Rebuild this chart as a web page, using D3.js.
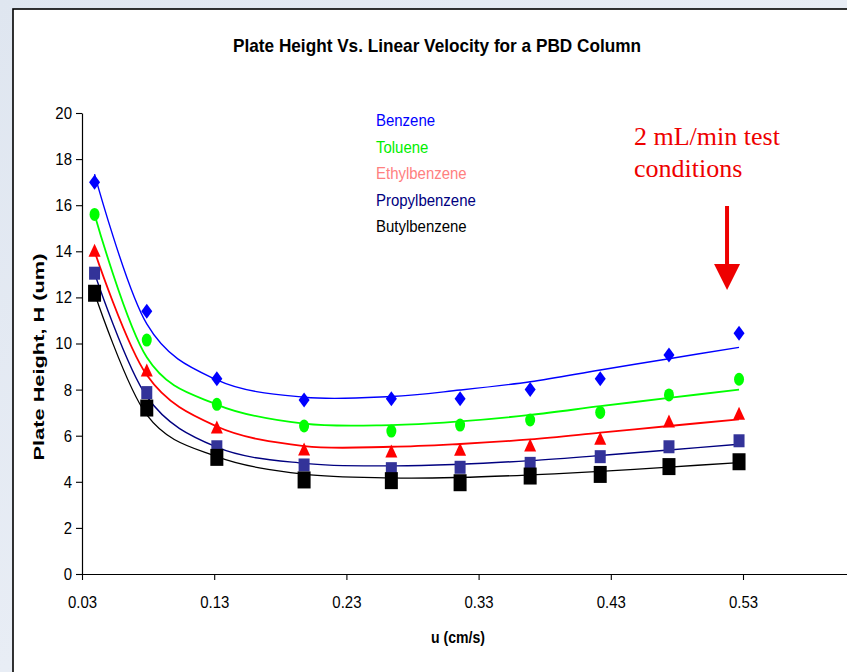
<!DOCTYPE html>
<html>
<head>
<meta charset="utf-8">
<script src="https://cdn.jsdelivr.net/npm/d3@7"></script>
<style>
  html, body { margin: 0; padding: 0; background: #e1e8f1; }
  svg { display: block; }
</style>
</head>
<body>
<svg id="chart" width="847" height="672"></svg>
<script>
// Linear velocity u (cm/s) for each measured flow rate
const velocity = [0.0395, 0.079, 0.132, 0.198, 0.264, 0.316, 0.369, 0.422, 0.474, 0.527];

// Measured plate heights H (um)
const benzeneH      = [17.0, 11.4, 8.47, 7.55, 7.6, 7.6, 8.0, 8.47, 9.5, 10.45];
const tolueneH      = [15.6, 10.15, 7.36, 6.42, 6.2, 6.46, 6.68, 7.01, 7.77, 8.45];
const ethylbenzeneH = [14.05, 8.85, 6.38, 5.42, 5.34, 5.41, 5.6, 5.89, 6.64, 6.97];
const propylbenzeneH= [13.05, 7.87, 5.52, 4.73, 4.57, 4.63, 4.8, 5.09, 5.52, 5.78];
const butylbenzeneH = [12.18, 7.2, 5.06, 4.08, 4.05, 3.96, 4.25, 4.32, 4.66, 4.87];

// Fitted curve values at the same velocities
const benzeneFit      = [17.35, 10.85, 8.42, 7.67, 7.7, 7.98, 8.34, 8.85, 9.34, 9.83];
const tolueneFit      = [15.6, 9.4, 7.35, 6.52, 6.46, 6.62, 6.9, 7.28, 7.64, 8.0];
const ethylbenzeneFit = [14.0, 8.63, 6.4, 5.55, 5.52, 5.64, 5.84, 6.13, 6.42, 6.71];
const propylbenzeneFit= [13.05, 7.7, 5.5, 4.8, 4.69, 4.76, 4.92, 5.14, 5.38, 5.63];
const butylbenzeneFit = [12.18, 6.9, 5.09, 4.33, 4.17, 4.19, 4.3, 4.45, 4.64, 4.83];

const seriesNames = ["Benzene", "Toluene", "Ethylbenzene", "Propylbenzene", "Butylbenzene"];

// Axis ticks
const xTicks = [0.03, 0.13, 0.23, 0.33, 0.43, 0.53];
const yTicks = [0, 2, 4, 6, 8, 10, 12, 14, 16, 18, 20];

const series = [
  { name: seriesNames[0], h: benzeneH, fit: benzeneFit, marker: "diamond", mColor: "#0000ff", lColor: "#0000ff", lw: 1.4, w: 11, hgt: 15, legend: "#0000ff" },
  { name: seriesNames[1], h: tolueneH, fit: tolueneFit, marker: "circle", mColor: "#00ff00", lColor: "#00ff00", lw: 1.8, w: 10, hgt: 13, legend: "#00ee00" },
  { name: seriesNames[2], h: ethylbenzeneH, fit: ethylbenzeneFit, marker: "triangle", mColor: "#ff0000", lColor: "#ff0000", lw: 1.8, w: 12, hgt: 13, legend: "#ff8080" },
  { name: seriesNames[3], h: propylbenzeneH, fit: propylbenzeneFit, marker: "square", mColor: "#333399", lColor: "#000080", lw: 1.4, w: 11, hgt: 13, legend: "#000080" },
  { name: seriesNames[4], h: butylbenzeneH, fit: butylbenzeneFit, marker: "square", mColor: "#000000", lColor: "#000000", lw: 1.3, w: 13, hgt: 17, legend: "#000000" }
];

const svg = d3.select("#chart");

// Slide background and white chart frame
const defs = svg.append("defs");
const grad = defs.append("linearGradient").attr("id", "bg").attr("x1", 0).attr("y1", 0).attr("x2", 1).attr("y2", 1);
grad.append("stop").attr("offset", "0%").attr("stop-color", "#dfe6f0");
grad.append("stop").attr("offset", "50%").attr("stop-color", "#e8edf5");
grad.append("stop").attr("offset", "100%").attr("stop-color", "#dce4ee");
svg.append("rect").attr("width", 847).attr("height", 672).attr("fill", "url(#bg)");
svg.append("rect").attr("x", 13).attr("y", 9).attr("width", 900).attr("height", 720)
  .attr("fill", "#ffffff").attr("stroke", "#000").attr("stroke-width", 1.6);

// Scales
const x = d3.scaleLinear().domain([0.03, 0.63]).range([82, 82 + 6 * 132.2]);
const y = d3.scaleLinear().domain([0, 20]).range([574, 113]);

function condense(sel, f) {
  sel.each(function () {
    const w = this.getComputedTextLength();
    this.setAttribute("textLength", w * f);
    this.setAttribute("lengthAdjust", "spacingAndGlyphs");
  });
}

const font = "'Liberation Sans', Arial, sans-serif";

// Axes
const xAxis = svg.append("g").attr("transform", `translate(0,${y(0)})`)
  .call(d3.axisBottom(x).tickValues(xTicks).tickFormat(d3.format(".2f")).tickSize(6).tickSizeOuter(0).tickPadding(16));
const yAxis = svg.append("g").attr("transform", `translate(${x(0.03)},0)`)
  .call(d3.axisLeft(y).tickValues(yTicks).tickFormat(d3.format("d")).tickSize(6).tickSizeOuter(0).tickPadding(4));

[xAxis, yAxis].forEach(g => {
  g.select(".domain").attr("stroke", "#000").attr("stroke-width", 1.2);
  g.selectAll(".tick line").attr("stroke", "#000").attr("stroke-width", 1.1);
  g.selectAll(".tick text").attr("font-family", font).attr("font-size", 17).attr("fill", "#000");
  condense(g.selectAll(".tick text"), 0.88);
});

// Fitted curves
const line = d3.line()
  .x((d, i) => x(velocity[i]))
  .y(d => y(d))
  .curve(d3.curveCardinal.tension(0));

series.forEach(s => {
  svg.append("path")
    .datum(s.fit)
    .attr("d", line)
    .attr("fill", "none")
    .attr("stroke", s.lColor)
    .attr("stroke-width", s.lw);
});

// Marker shapes drawn in unit size, then stretched to width/height
function unitShape(kind) {
  const p = d3.path();
  if (kind === "diamond") {
    p.moveTo(0, -1); p.lineTo(1, 0); p.lineTo(0, 1); p.lineTo(-1, 0); p.closePath();
  } else if (kind === "circle") {
    p.moveTo(1, 0); p.arc(0, 0, 1, 0, 2 * Math.PI);
  } else if (kind === "triangle") {
    p.moveTo(0, -1); p.lineTo(1, 1); p.lineTo(-1, 1); p.closePath();
  } else {
    p.rect(-1, -1, 2, 2);
  }
  return p.toString();
}

series.forEach(s => {
  svg.append("g").selectAll("path")
    .data(s.h)
    .join("path")
    .attr("d", unitShape(s.marker))
    .attr("transform", (d, i) => `translate(${x(velocity[i])},${y(d)}) scale(${s.w / 2},${s.hgt / 2})`)
    .attr("fill", s.mColor);
});

// Title
svg.append("text")
  .attr("x", 437).attr("y", 52)
  .attr("text-anchor", "middle")
  .attr("font-family", font).attr("font-weight", "bold").attr("font-size", 19)
  .attr("textLength", 408).attr("lengthAdjust", "spacingAndGlyphs")
  .text("Plate Height Vs. Linear Velocity for a PBD Column");

// Axis titles
const xt = svg.append("text")
  .attr("x", 458).attr("y", 643)
  .attr("text-anchor", "middle")
  .attr("font-family", font).attr("font-weight", "bold").attr("font-size", 16)
  .text("u (cm/s)");
condense(xt, 0.88);

svg.append("text")
  .attr("transform", "translate(44,357) rotate(-90)")
  .attr("text-anchor", "middle")
  .attr("font-family", font).attr("font-weight", "bold").attr("font-size", 15)
  .attr("textLength", 207).attr("lengthAdjust", "spacingAndGlyphs")
  .text("Plate Height, H (um)");

// Legend labels
const legend = svg.append("g");
legend.selectAll("text")
  .data(series)
  .join("text")
  .attr("x", 376)
  .attr("y", (d, i) => 126 + i * 26.5)
  .attr("font-family", font).attr("font-size", 17)
  .attr("fill", d => d.legend)
  .text(d => d.name);
condense(legend.selectAll("text"), 0.88);

// Annotation for the test flow rate
const note = svg.append("g")
  .attr("font-family", "'Liberation Serif', 'Times New Roman', serif")
  .attr("font-size", 26).attr("fill", "#ee0000");
note.append("text").attr("x", 634).attr("y", 145).text("2 mL/min test");
note.append("text").attr("x", 634).attr("y", 177).text("conditions");

const ax = x(velocity[velocity.length - 1]) - 12;
svg.append("line")
  .attr("x1", ax).attr("x2", ax).attr("y1", 206).attr("y2", 266)
  .attr("stroke", "#ee0000").attr("stroke-width", 4);
svg.append("path")
  .attr("d", `M${ax - 13},264 L${ax + 13},264 L${ax},290 Z`)
  .attr("fill", "#ee0000");
</script>
</body>
</html>
